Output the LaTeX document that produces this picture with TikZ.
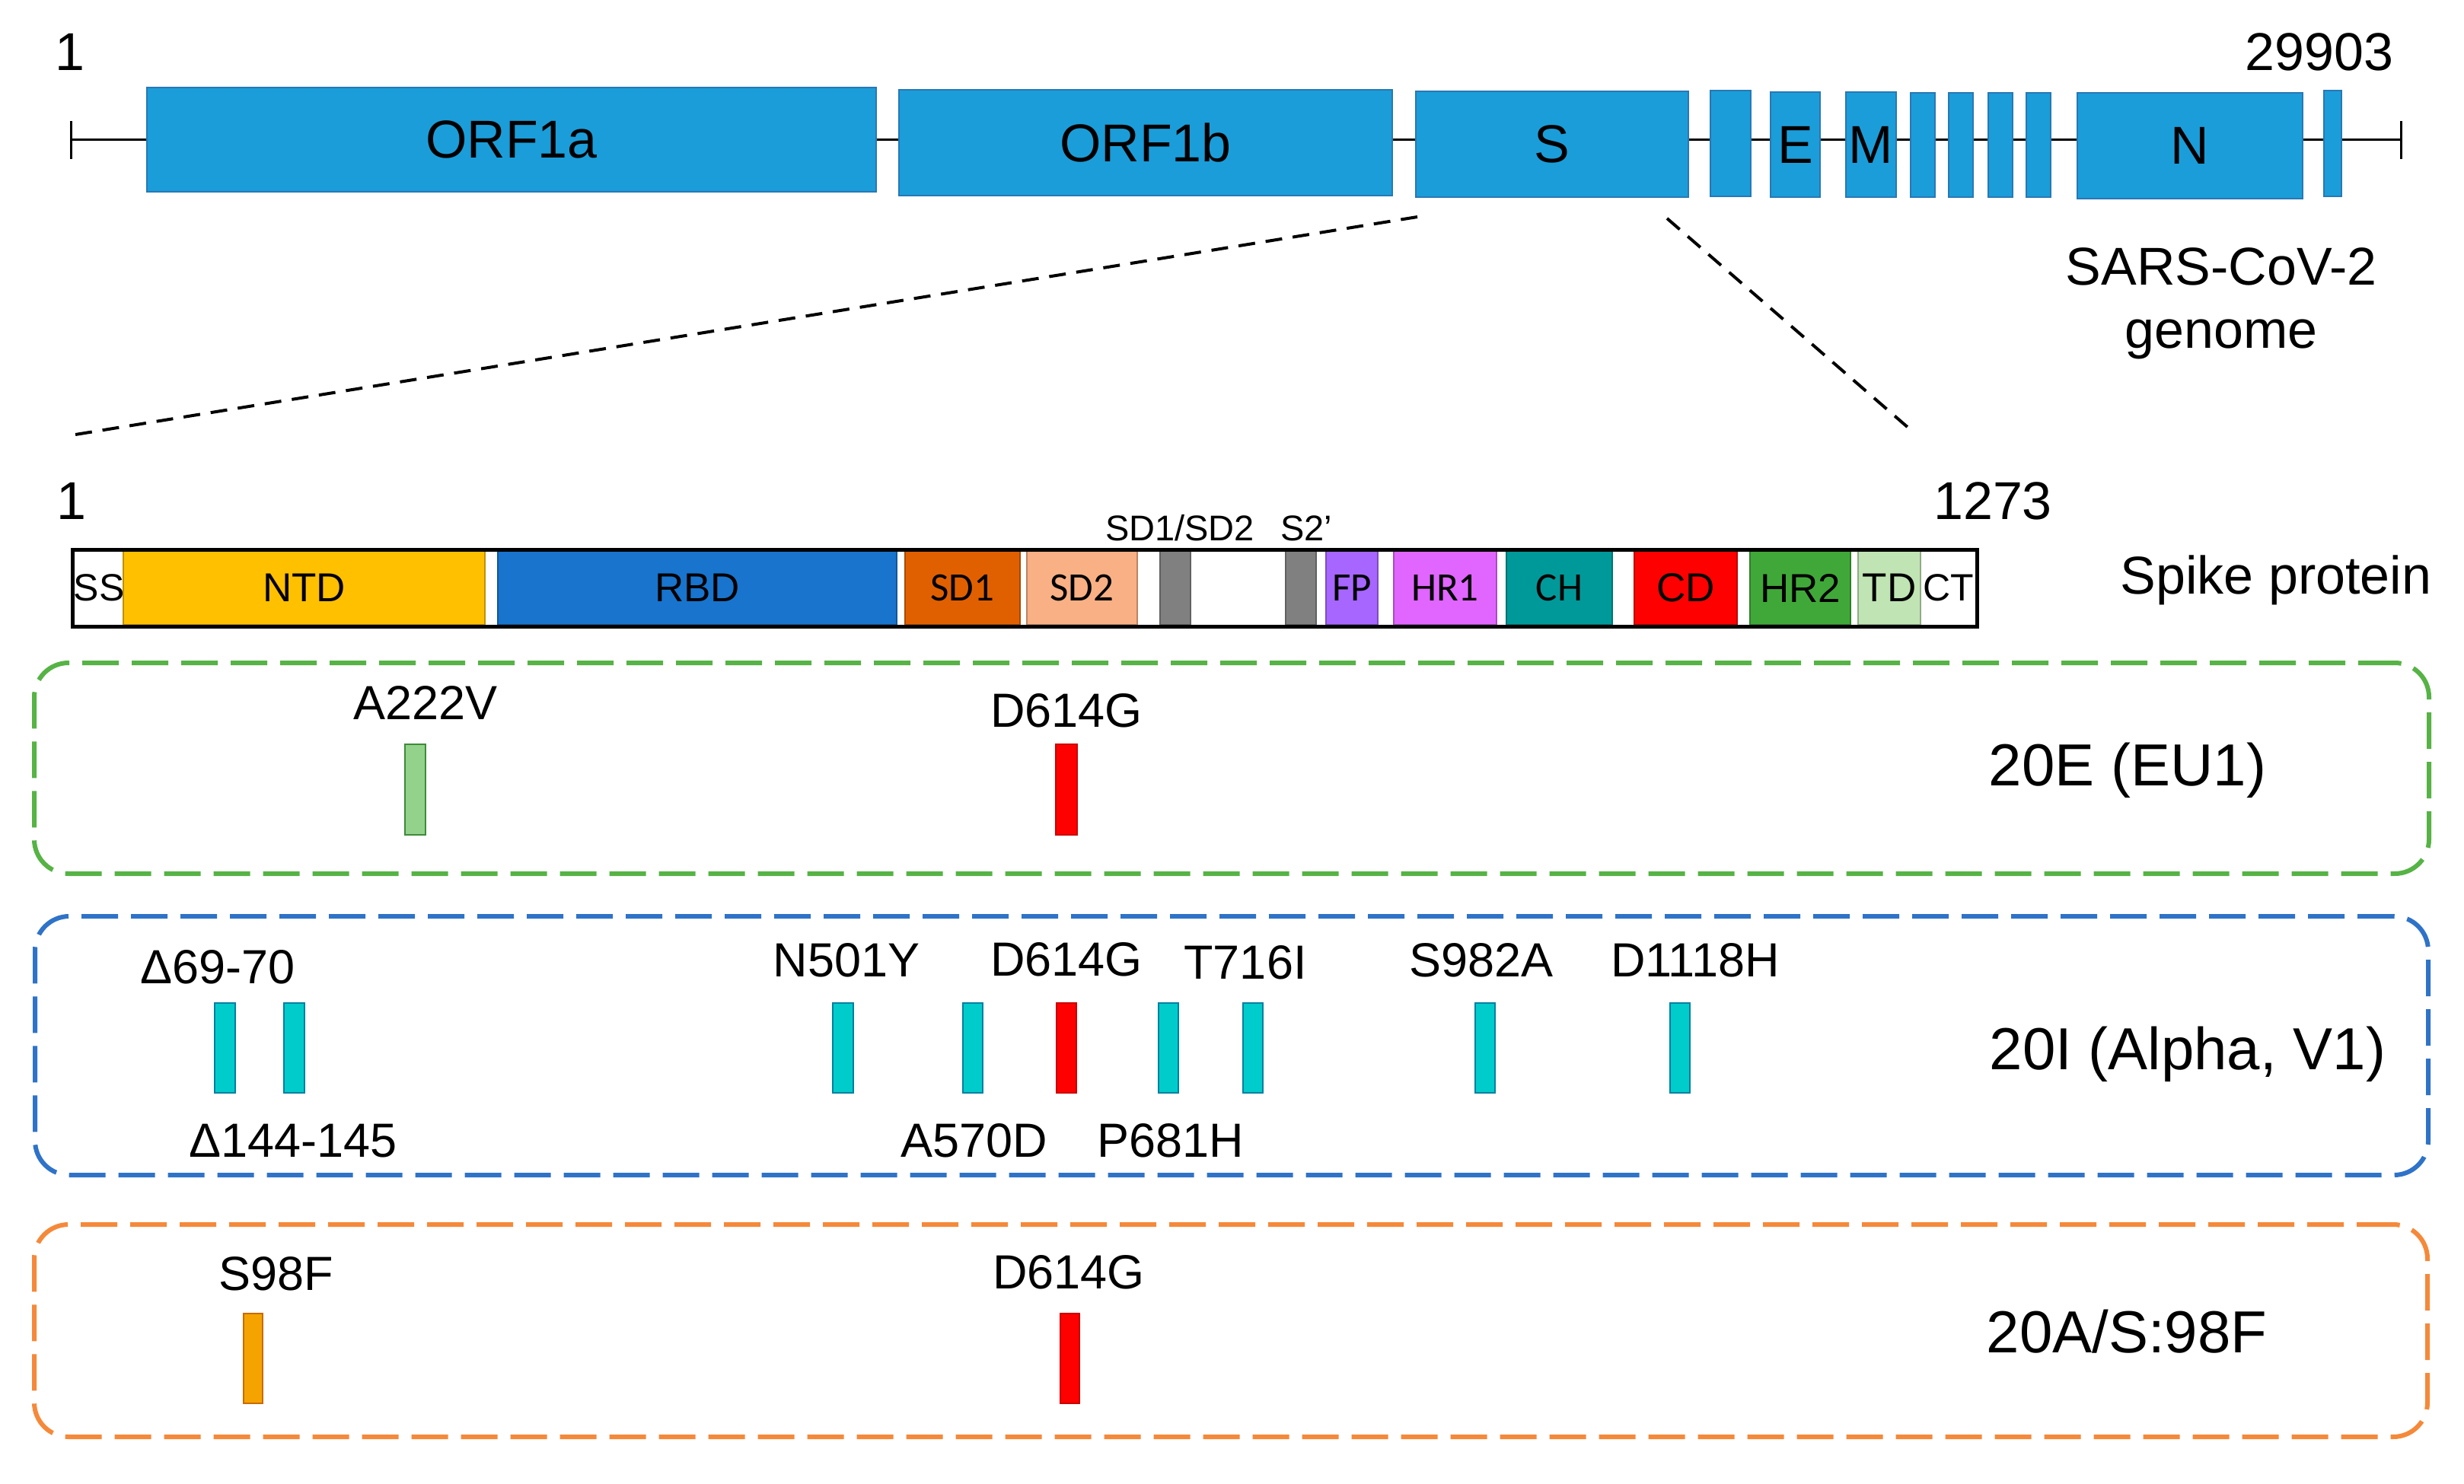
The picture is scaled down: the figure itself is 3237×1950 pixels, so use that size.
\documentclass[tikz,border=0pt]{standalone}
\usepackage{fontspec}
\setmainfont{Liberation Sans}
\newfontfamily\calfont{Carlito}
\usetikzlibrary{calc}
\definecolor{gblue}{RGB}{27,157,217}
\definecolor{gblueD}{RGB}{40,120,180}
\definecolor{cntd}{RGB}{255,192,0}
\definecolor{crbd}{RGB}{24,116,205}
\definecolor{csdone}{RGB}{224,96,0}
\definecolor{csdtwo}{RGB}{248,176,132}
\definecolor{cgray}{RGB}{128,128,128}
\definecolor{cfp}{RGB}{166,102,255}
\definecolor{chrone}{RGB}{224,102,255}
\definecolor{cch}{RGB}{0,153,153}
\definecolor{ccd}{RGB}{255,0,0}
\definecolor{chrtwo}{RGB}{64,168,56}
\definecolor{ctd}{RGB}{192,228,180}
\definecolor{bgreen}{RGB}{86,179,69}
\definecolor{bblue}{RGB}{47,115,200}
\definecolor{borange}{RGB}{245,137,58}
\definecolor{mteal}{RGB}{0,204,204}
\definecolor{mtealD}{RGB}{0,128,160}
\definecolor{mlgreen}{RGB}{146,210,138}
\definecolor{mlgreenD}{RGB}{63,138,58}
\definecolor{mamber}{RGB}{245,163,0}
\definecolor{mamberD}{RGB}{200,106,0}
\definecolor{mred}{RGB}{255,0,0}
\definecolor{mredD}{RGB}{204,0,0}
\newcommand{\fgen}{\fontsize{70}{84}\selectfont}
\newcommand{\fmut}{\fontsize{63}{76}\selectfont}
\newcommand{\fvar}{\fontsize{78}{94}\selectfont}
\newcommand{\fdom}{\fontsize{53}{64}\selectfont}
\newcommand{\fend}{\fontsize{50}{60}\selectfont}
\newcommand{\fcal}{\calfont\fontsize{53}{64}\selectfont}
\newcommand{\fsml}{\fontsize{47}{56}\selectfont}
\newcommand{\mkgene}[7]{\node[gbox, minimum width={#3-#2}, minimum height={#5-#4}] (#1) at ({(#2+#3)/2},{(#4+#5)/2}) {#6};}
\newcommand{\mkdom}[6]{\node[dom=#4, minimum width={#3-#2}, font=#6] (#1) at ({(#2+#3)/2},772.5) {#5};}
\newcommand{\mkbar}[6]{\node[mbar=#6, minimum width={#3-#2}, minimum height={#5-#4}] (#1) at ({(#2+#3)/2},{(#4+#5)/2}) {};}
\tikzset{
  gbox/.style={draw=gblueD, fill=gblue, line width=2pt, inner sep=0pt, font=\fgen},
  dom/.style={draw=#1!75!black, fill=#1, line width=1.5pt, inner sep=0pt, minimum height=96pt},
  mbar/.style={draw=#1D, fill=#1, line width=2.5pt, inner sep=0pt},
  varbox/.style={draw=#1, line width=6pt, dash pattern=on 48pt off 17pt, rounded corners=45pt, inner sep=0pt},
  mlab/.style={font=\fmut, anchor=base, inner sep=0pt},
  vlab/.style={font=\fvar, inner sep=0pt},
  zoomline/.style={line width=4pt, dash pattern=on 22pt off 14pt},
}
\begin{document}
\begin{tikzpicture}[x=1pt,y=-1pt]
\useasboundingbox (0,0) rectangle (3237,1950);
% ---------- genome ----------
\coordinate (tl) at (93,184);
\coordinate (tr) at (3154,184);
\draw[line width=3pt] (tl) -- (tr);
\draw[line width=3pt] ($(tl)+(0,-25)$) -- ($(tl)+(0,25)$);
\draw[line width=3pt] ($(tr)+(0,-25)$) -- ($(tr)+(0,25)$);
\mkgene{orfa}{193}{1151}{115}{252}{ORF1a}{}
\mkgene{orfb}{1181}{1829}{118}{257}{ORF1b}{}
\mkgene{sg}{1860}{2218}{120}{259}{S}{}
\mkgene{g4}{2247}{2300}{119}{258}{}{}
\mkgene{eg}{2326}{2391}{121}{259}{E}{}
\mkgene{mg}{2425}{2491}{121}{259}{M}{}
\mkgene{g7}{2510}{2542}{122}{259}{}{}
\mkgene{g8}{2560}{2592}{122}{259}{}{}
\mkgene{g9}{2612}{2644}{122}{259}{}{}
\mkgene{g10}{2662}{2694}{122}{259}{}{}
\mkgene{ng}{2729}{3025}{122}{261}{N}{}
\mkgene{g12}{3053}{3076}{119}{258}{}{}
\node[font=\fgen, inner sep=0pt] (gone) at (92,68) {1};
\node[font=\fgen, inner sep=0pt] (gend) at (3047,68) {29903};
\node[font=\fgen, anchor=base, inner sep=0pt] (sars) at (2918,375) {SARS-CoV-2};
\node[font=\fgen, anchor=base, inner sep=0pt] (genome) at (2918,457) {genome};
% ---------- zoom lines ----------
\coordinate (zl1) at (1862,285);
\coordinate (zl2) at (93,572);
\coordinate (zr1) at (2190,287);
\coordinate (zr2) at (2508,563);
\draw[zoomline] (zl1) -- (zl2);
\draw[zoomline] (zr1) -- (zr2);
% ---------- spike protein ----------
\node[font=\fend, inner sep=0pt] (ss) at (130,772.5) {SS};
\mkdom{ntd}{162}{637}{cntd}{NTD}{\fdom}
\mkdom{rbd}{654}{1178}{crbd}{RBD}{\fdom}
\mkdom{sdone}{1189}{1340}{csdone}{SD1}{\fcal}
\mkdom{sdtwo}{1349}{1494}{csdtwo}{SD2}{\fcal}
\mkdom{gone}{1524}{1564}{cgray}{}{\fdom}
\mkdom{gtwo}{1689}{1729}{cgray}{}{\fdom}
\mkdom{fp}{1742}{1810}{cfp}{FP}{\fcal}
\mkdom{hrone}{1831}{1966}{chrone}{HR1}{\fcal}
\mkdom{ch}{1979}{2118}{cch}{CH}{\fcal}
\mkdom{cd}{2147}{2282}{ccd}{CD}{\fdom}
\mkdom{hrtwo}{2299}{2431}{chrtwo}{HR2}{\fdom}
\mkdom{td}{2441}{2523}{ctd}{TD}{\fdom}
\node[font=\fend, inner sep=0pt] (ct) at (2560,772.5) {CT};
\draw[line width=5pt] (95,722) rectangle (2597,823);
\node[font=\fgen, inner sep=0pt] (pone) at (94,658) {1};
\node[font=\fgen, inner sep=0pt] (pend) at (2618,658) {1273};
\node[font=\fgen, inner sep=0pt] (spike) at (2990,762) {Spike protein};
\node[font=\fsml, anchor=base, inner sep=0pt] (cleave) at (1550,710) {SD1/SD2};
\node[font=\fsml, anchor=base, inner sep=0pt] (stwo) at (1716,710) {S2’};
% ---------- 20E (EU1) ----------
\node[varbox=bgreen, minimum width=3146, minimum height=277] (boxa) at (1618,1009.5) {};
\mkbar{a222}{532}{559}{978}{1097}{mlgreen}
\mkbar{a614}{1387}{1415}{978}{1097}{mred}
\node[mlab] (la222) at (559,945) {A222V};
\node[mlab] (la614) at (1401,955) {D614G};
\node[vlab] (va) at (2795,1012) {20E (EU1)};
% ---------- 20I (Alpha, V1) ----------
\node[varbox=bblue, minimum width=3144, minimum height=340] (boxb) at (1618,1374) {};
\mkbar{b69}{282}{309}{1318}{1436}{mteal}
\mkbar{b144}{373}{400}{1318}{1436}{mteal}
\mkbar{b501}{1094}{1121}{1318}{1436}{mteal}
\mkbar{b570}{1265}{1291}{1318}{1436}{mteal}
\mkbar{b614}{1388}{1414}{1318}{1436}{mred}
\mkbar{b681}{1522}{1548}{1318}{1436}{mteal}
\mkbar{b716}{1633}{1659}{1318}{1436}{mteal}
\mkbar{b982}{1938}{1964}{1318}{1436}{mteal}
\mkbar{b1118}{2194}{2220}{1318}{1436}{mteal}
\node[mlab] (lb69) at (286,1292) {Δ69-70};
\node[mlab] (lb144) at (385,1520) {Δ144-145};
\node[mlab] (lb501) at (1112,1283) {N501Y};
\node[mlab] (lb570) at (1280,1520) {A570D};
\node[mlab] (lb614) at (1401,1282) {D614G};
\node[mlab] (lb681) at (1538,1520) {P681H};
\node[mlab] (lb716) at (1636,1286) {T716I};
\node[mlab] (lb982) at (1946,1283) {S982A};
\node[mlab] (lb1118) at (2227,1283) {D1118H};
\node[vlab] (vb) at (2874,1385) {20I (Alpha, V1)};
% ---------- 20A/S:98F ----------
\node[varbox=borange, minimum width=3144, minimum height=279] (boxc) at (1617,1748.5) {};
\mkbar{c98}{320}{345}{1726}{1844}{mamber}
\mkbar{c614}{1393}{1418}{1726}{1844}{mred}
\node[mlab] (lc98) at (363,1695) {S98F};
\node[mlab] (lc614) at (1404,1693) {D614G};
\node[vlab] (vc) at (2794,1750) {20A/S:98F};
\end{tikzpicture}
\end{document}
